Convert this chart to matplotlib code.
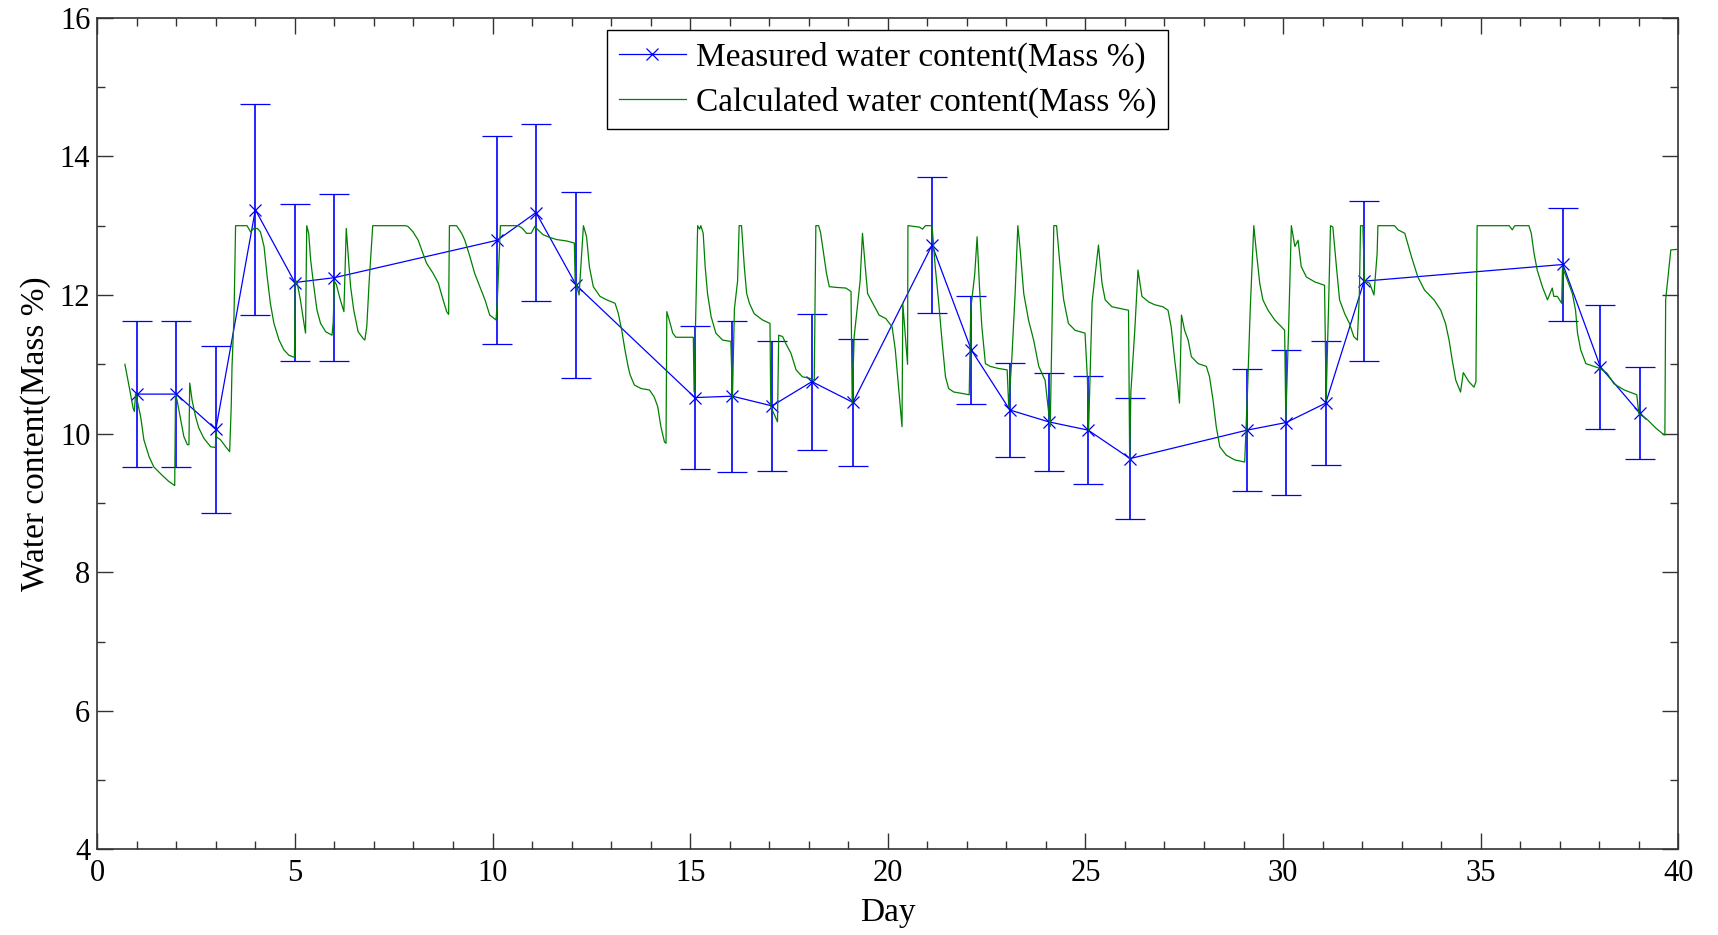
import matplotlib
matplotlib.use("Agg")
import matplotlib.pyplot as plt
from matplotlib.ticker import MultipleLocator
from matplotlib.lines import Line2D

plt.rcParams['font.family'] = ['Liberation Serif', 'DejaVu Serif']

# Measured water content with standard deviation
meas_day = [1.0, 2.0, 3.0, 4.0, 5.0, 6.0, 10.12, 11.1, 12.12, 15.12, 16.07, 17.07,
            18.08, 19.12, 21.12, 22.11, 23.09, 24.07, 25.07, 26.13, 29.09, 30.08,
            31.08, 32.05, 37.08, 38.03, 39.02]
meas_wc = [10.57, 10.57, 10.06, 13.23, 12.18, 12.25, 12.79, 13.19, 12.14, 10.52,
           10.54, 10.40, 10.75, 10.45, 12.72, 11.21, 10.34, 10.17, 10.05, 9.64,
           10.05, 10.16, 10.44, 12.20, 12.44, 10.96, 10.30]
meas_err = [1.05, 1.05, 1.20, 1.52, 1.13, 1.20, 1.50, 1.27, 1.34, 1.03, 1.09, 0.94,
            0.98, 0.92, 0.98, 0.78, 0.68, 0.71, 0.78, 0.87, 0.88, 1.04, 0.90, 1.15,
            0.82, 0.90, 0.66]

# Simulated water content
calc_day = [0.70, 0.80, 0.91, 0.94, 0.97, 1.01, 1.10, 1.18, 1.31, 1.43, 1.64, 1.81,
            1.96, 1.98, 2.02, 2.11, 2.19, 2.28, 2.32, 2.34, 2.40, 2.49, 2.57, 2.70,
            2.87, 2.99, 3.00, 3.02, 3.12, 3.25, 3.35, 3.39, 3.41, 3.46, 3.50, 3.79,
            3.88, 3.96, 4.05, 4.13, 4.22, 4.30, 4.38, 4.47, 4.60, 4.72, 4.85, 4.99,
            5.01, 5.06, 5.14, 5.23, 5.27, 5.30, 5.35, 5.40, 5.48, 5.56, 5.65, 5.78,
            5.94, 5.97, 6.00, 6.05, 6.14, 6.24, 6.30, 6.37, 6.41, 6.49, 6.60, 6.73,
            6.77, 6.82, 6.88, 6.92, 6.97, 7.78, 7.86, 7.99, 8.12, 8.21, 8.33, 8.50,
            8.63, 8.75, 8.84, 8.89, 8.91, 9.09, 9.22, 9.30, 9.43, 9.55, 9.68, 9.81,
            9.93, 10.09, 10.12, 10.20, 10.65, 10.76, 10.86, 10.98, 11.07, 11.15,
            11.28, 11.45, 11.62, 11.87, 12.07, 12.09, 12.19, 12.30, 12.38, 12.45,
            12.55, 12.72, 12.89, 13.10, 13.18, 13.27, 13.35, 13.43, 13.48, 13.59,
            13.76, 13.97, 14.09, 14.18, 14.26, 14.35, 14.39, 14.41, 14.47, 14.56,
            14.64, 15.08, 15.10, 15.15, 15.19, 15.24, 15.27, 15.33, 15.38, 15.44,
            15.53, 15.65, 15.82, 16.03, 16.07, 16.12, 16.20, 16.24, 16.30, 16.37,
            16.43, 16.50, 16.62, 16.83, 17.02, 17.04, 17.21, 17.24, 17.34, 17.42,
            17.55, 17.68, 17.84, 18.01, 18.14, 18.18, 18.25, 18.30, 18.39, 18.45,
            18.52, 18.69, 18.94, 19.07, 19.10, 19.15, 19.30, 19.36, 19.43, 19.49,
            19.62, 19.78, 19.95, 20.11, 20.19, 20.27, 20.36, 20.38, 20.50, 20.51,
            20.80, 20.88, 20.95, 21.12, 21.20, 21.29, 21.37, 21.46, 21.54, 21.67,
            21.88, 22.06, 22.10, 22.20, 22.26, 22.32, 22.38, 22.47, 22.59, 22.80,
            23.02, 23.06, 23.14, 23.22, 23.29, 23.35, 23.44, 23.56, 23.69, 23.82,
            23.98, 24.11, 24.20, 24.27, 24.36, 24.45, 24.57, 24.74, 24.99, 25.05,
            25.08, 25.17, 25.33, 25.42, 25.50, 25.67, 25.84, 26.09, 26.12, 26.15,
            26.25, 26.33, 26.43, 26.60, 26.75, 26.96, 27.09, 27.17, 27.26, 27.34,
            27.38, 27.43, 27.51, 27.60, 27.68, 27.85, 28.06, 28.14, 28.23, 28.31,
            28.40, 28.56, 28.78, 29.03, 29.10, 29.17, 29.26, 29.32, 29.41, 29.49,
            29.62, 29.79, 29.96, 30.04, 30.07, 30.14, 30.21, 30.30, 30.38, 30.46,
            30.59, 30.80, 31.05, 31.09, 31.15, 31.20, 31.26, 31.35, 31.43, 31.56,
            31.68, 31.79, 31.88, 31.93, 31.96, 32.02, 32.06, 32.19, 32.30, 32.38,
            32.40, 32.82, 32.91, 33.08, 33.25, 33.41, 33.58, 33.82, 33.99, 34.11,
            34.20, 34.28, 34.37, 34.49, 34.56, 34.70, 34.83, 34.88, 34.91, 35.72,
            35.80, 35.86, 36.22, 36.28, 36.35, 36.43, 36.56, 36.69, 36.74, 36.81,
            36.85, 36.94, 37.05, 37.07, 37.19, 37.32, 37.40, 37.45, 37.53, 37.66,
            37.87, 38.02, 38.20, 38.37, 38.63, 38.95, 39.00, 39.22, 39.43, 39.60,
            39.66, 39.68, 39.81, 40.00]
calc_wc = [11.00, 10.70, 10.36, 10.32, 10.58, 10.48, 10.24, 9.91, 9.67, 9.52, 9.40, 9.31,
           9.25, 10.56, 10.48, 10.20, 9.96, 9.84, 9.84, 10.73, 10.48, 10.24, 10.08, 9.93,
           9.81, 9.80, 10.02, 9.95, 9.91, 9.81, 9.74, 10.40, 10.97, 11.69, 13.00, 13.00,
           12.91, 12.96, 12.96, 12.91, 12.70, 12.26, 11.88, 11.59, 11.35, 11.21, 11.13, 11.10,
           12.22, 12.17, 11.93, 11.59, 11.45, 13.00, 12.89, 12.50, 12.12, 11.78, 11.59, 11.47,
           11.42, 11.61, 12.20, 12.15, 11.95, 11.76, 12.96, 12.41, 12.12, 11.78, 11.47, 11.37,
           11.35, 11.55, 12.20, 12.55, 13.00, 13.00, 12.99, 12.91, 12.79, 12.65, 12.46, 12.31,
           12.17, 11.93, 11.76, 11.72, 13.00, 13.00, 12.89, 12.79, 12.55, 12.31, 12.12, 11.93,
           11.71, 11.64, 11.90, 13.00, 13.00, 12.96, 12.89, 12.89, 12.99, 12.94,
           12.87, 12.83, 12.80, 12.78, 12.75, 12.22, 12.00, 13.00, 12.84, 12.41,
           12.12, 11.98, 11.93, 11.88, 11.74, 11.49, 11.21, 10.97, 10.85, 10.70,
           10.65, 10.63, 10.53, 10.39, 10.10, 9.88, 9.86, 11.76, 11.64, 11.45,
           11.39, 11.39, 10.60, 11.90, 13.00, 12.95, 13.00, 12.89, 12.41, 12.02,
           11.69, 11.45, 11.35, 11.33, 10.51, 11.80, 12.20, 13.00, 13.00, 12.41,
           12.02, 11.88, 11.73, 11.64, 11.59, 10.39, 10.17, 11.42, 11.40, 11.30,
           11.16, 10.92, 10.82, 10.80, 10.77, 13.00, 13.00, 12.90, 12.55, 12.31,
           12.12, 12.11, 12.10, 12.05, 10.44, 11.40, 12.20, 12.89, 12.41, 12.02,
           11.88, 11.71, 11.66, 11.54, 11.21, 10.68, 10.10, 11.88, 11.00, 13.00,
           12.98, 12.95, 13.00, 13.00, 12.41, 11.88, 11.35, 10.82, 10.65, 10.60,
           10.58, 10.56, 11.80, 12.30, 12.84, 12.12, 11.54, 11.01, 10.97, 10.94,
           10.92, 10.39, 11.10, 12.00, 13.00, 12.65, 12.02, 11.64, 11.35, 10.97,
           10.77, 10.10, 13.00, 13.00, 12.41, 11.93, 11.59, 11.49, 11.45, 10.80,
           10.05, 11.90, 12.72, 12.17, 11.93, 11.83, 11.81, 11.78, 9.62, 10.60,
           11.50, 12.36, 11.98, 11.90, 11.86, 11.83, 11.78, 11.54, 11.06, 10.68,
           10.44, 11.71, 11.49, 11.35, 11.11, 11.01, 10.97, 10.82, 10.48, 10.10,
           9.81, 9.69, 9.62, 9.59, 10.60, 11.80, 13.00, 12.65, 12.17, 11.93,
           11.78, 11.64, 11.54, 11.49, 10.20, 11.50, 13.00, 12.70, 12.79, 12.41,
           12.26, 12.19, 12.14, 10.48, 11.80, 13.00, 12.98, 12.41, 11.93, 11.73,
           11.59, 11.40, 11.35, 12.00, 13.00, 13.00, 12.20, 12.17, 12.00, 12.60,
           13.00, 13.00, 12.94, 12.89, 12.55, 12.26, 12.07, 11.93, 11.78, 11.59,
           11.35, 11.06, 10.77, 10.60, 10.88, 10.75, 10.67, 10.75, 13.00, 13.00,
           12.94, 13.00, 13.00, 12.89, 12.60, 12.36, 12.12, 11.93, 12.00, 12.10,
           11.98, 11.98, 11.88, 12.40, 12.22, 12.02, 11.78, 11.45, 11.21, 11.01,
           10.97, 10.94, 10.87, 10.72, 10.63, 10.56, 10.29, 10.20, 10.08, 10.00,
           9.98, 11.93, 12.65, 12.66]

x_ticks = [0, 5, 10, 15, 20, 25, 30, 35, 40]
y_ticks = [4, 6, 8, 10, 12, 14, 16]

meas_label = 'Measured water content(Mass %)'
calc_label = 'Calculated water content(Mass %)'
blue = '#0000ff'
green = '#008000'

fig = plt.figure(figsize=(17.18, 9.35), dpi=100)
ax = fig.add_axes([0.0566, 0.0915, 0.9203, 0.8895])

ax.errorbar(meas_day, meas_wc, yerr=meas_err, color=blue, lw=0.9,
            elinewidth=1.2, capsize=11, capthick=1.2, marker='x', ms=8, mew=0.9,
            zorder=2)
ax.plot(calc_day, calc_wc, color=green, lw=0.9, zorder=3)

ax.set_xlim(0, 40)
ax.set_ylim(4, 16)
ax.set_xticks(x_ticks)
ax.set_yticks(y_ticks)
ax.xaxis.set_minor_locator(MultipleLocator(1))
ax.yaxis.set_minor_locator(MultipleLocator(1))
ax.tick_params(which='both', direction='in', top=True, right=True,
               colors='#333333', labelcolor='black', width=1.0)
ax.tick_params(which='major', length=11.5, labelsize=22)
ax.tick_params(which='minor', length=5.8)
ax.tick_params(axis='x', which='major', pad=7)
ax.tick_params(axis='y', which='major', pad=5)
for sp in ax.spines.values():
    sp.set_color('#333333')
    sp.set_linewidth(1.2)

ax.set_xlabel('Day', fontsize=24, labelpad=7)
ax.set_ylabel('Water content(Mass %)', fontsize=24, labelpad=6)

handles = [Line2D([], [], color=blue, lw=0.9, marker='x', ms=8, mew=0.9),
           Line2D([], [], color=green, lw=0.9)]
leg = ax.legend(handles, [meas_label, calc_label], loc='upper center',
                bbox_to_anchor=(0.5, 0.985), fontsize=24, numpoints=1,
                frameon=True, fancybox=False, shadow=False, framealpha=1,
                edgecolor='black', borderpad=0.35, handlelength=2.0,
                handletextpad=0.3, labelspacing=0.4, borderaxespad=0)
leg.get_frame().set_linewidth(1.0)

fig.savefig('out.png', dpi=100)
